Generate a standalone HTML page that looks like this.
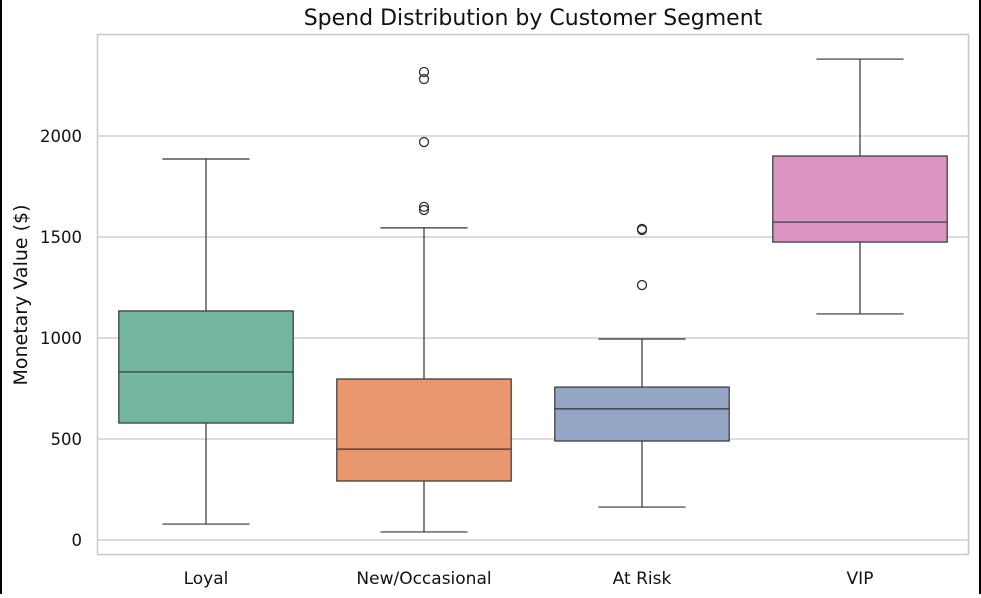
<!DOCTYPE html>
<html><head><meta charset="utf-8"><style>
html,body{margin:0;padding:0;background:#fff}
body{width:981px;height:594px;overflow:hidden;font-family:"DejaVu Sans","Liberation Sans",sans-serif}
</style></head><body>
<svg id="chart" width="981" height="594" xmlns="http://www.w3.org/2000/svg" font-family="DejaVu Sans, Liberation Sans, sans-serif">
<rect x="0" y="0" width="2" height="594" fill="#000"/>
<rect x="979" y="0" width="2" height="594" fill="#000"/>
<text x="533" y="25" text-anchor="middle" font-size="22" fill="#111">Spend Distribution by Customer Segment</text>
<g id="grid"></g><g id="boxes"></g><g id="axes"></g>
<rect x="97.5" y="34.5" width="871" height="520" fill="none" stroke="#c8c8c8" stroke-width="1.5"/>
<text transform="translate(27,295) rotate(-90)" text-anchor="middle" font-size="19" fill="#111">Monetary Value ($)</text>
</svg>
<script>
const categories=["Loyal","New/Occasional","At Risk","VIP"];
const mins=[79,40,163,1119];
const q1s=[579,292,490,1475];
const medians=[832,450,649,1574];
const q3s=[1134,797,757,1901];
const maxs=[1886,1545,995,2381];
const outliers=[[],[2317,2282,1970,1649,1634],[1540,1535,1262],[]];
const yTicks=[0,500,1000,1500,2000];
const colors=["#73b5a0","#e8976f","#95a5c6","#dc94c2"];
const NS="http://www.w3.org/2000/svg";
function y(v){return 540-v*0.202;}
function x(i){return 97+872/categories.length*(i+0.5);}
const bw=872/categories.length*0.8;
function mk(tag,attrs,parent){const e=document.createElementNS(NS,tag);for(const k in attrs)e.setAttribute(k,attrs[k]);parent.appendChild(e);return e;}
const grid=document.getElementById('grid'),boxes=document.getElementById('boxes'),axes=document.getElementById('axes');
yTicks.forEach(t=>{
 const l=mk('line',{x1:97,x2:969,y1:y(t),y2:y(t),stroke:'#c8c8c8','stroke-width':1.2},grid);
 
 
 const tx=mk('text',{x:82,y:y(t)+6,'text-anchor':'end','font-size':16.5,fill:'#111'},axes);
 tx.textContent=t;
 
 
});
categories.forEach((c,i)=>{
 const cx=x(i);
 const g=mk('g',{},boxes);
 
 
 const w1=mk('line',{x1:cx,x2:cx,y1:y(q1s[i]),y2:y(mins[i]),stroke:'#333','stroke-width':1.2},g);
 
 
 const w2=mk('line',{x1:cx,x2:cx,y1:y(q3s[i]),y2:y(maxs[i]),stroke:'#333','stroke-width':1.2},g);
 
 
 [mins[i],maxs[i]].forEach((v,k)=>{
  const cap=mk('line',{x1:cx-bw/4,x2:cx+bw/4,y1:y(v),y2:y(v),stroke:'#333','stroke-width':1.2},g);
  
  
 });
 const r=mk('rect',{x:cx-bw/2,y:y(q3s[i]),width:bw,height:y(q1s[i])-y(q3s[i]),fill:colors[i],stroke:'#333','stroke-width':1.2},g);
 
 
 const m=mk('line',{x1:cx-bw/2,x2:cx+bw/2,y1:y(medians[i]),y2:y(medians[i]),stroke:'#333','stroke-width':1.2},g);
 
 
 outliers[i].forEach(v=>{
  const o=mk('circle',{cx:cx,cy:y(v),r:4.5,fill:'none',stroke:'#333','stroke-width':1.3},g);
  
  
 });
 const t=mk('text',{x:cx,y:584,'text-anchor':'middle','font-size':17,fill:'#111'},axes);
 t.textContent=c;
 
 
});
</script>
</body></html>
